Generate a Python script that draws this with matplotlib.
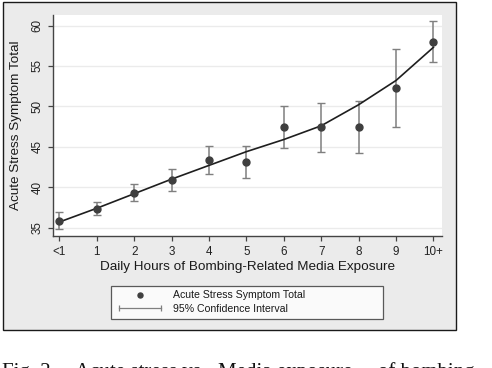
import matplotlib.pyplot as plt
from matplotlib.lines import Line2D
from matplotlib.legend_handler import HandlerLine2D
from matplotlib.patches import Rectangle

plt.rcParams['font.family'] = ['Liberation Sans', 'DejaVu Sans']

# daily hours of media exposure, group means and 95% CI
hour_labels = ['<1', '1', '2', '3', '4', '5', '6', '7', '8', '9', '10+']
stress_mean = [35.8, 37.3, 39.3, 40.9, 43.4, 43.1, 47.5, 47.4, 47.4, 52.25, 57.9]
ci_upper = [36.9, 38.2, 40.4, 42.3, 45.1, 45.1, 50.1, 50.4, 50.7, 57.1, 60.5]
ci_lower = [34.8, 36.6, 38.3, 39.5, 41.6, 41.1, 44.8, 44.4, 44.2, 47.4, 55.5]
# fitted curve
fit_values = [35.7, 37.4, 39.2, 41.0, 42.7, 44.4, 45.9, 47.6, 50.2, 53.2, 57.3]
y_ticks = [35, 40, 45, 50, 55, 60]

PT_COL = '#3f3f3f'
ERR_COL = '#7f7f7f'
AX_COL = '#444444'

fig = plt.figure(figsize=(4.92, 3.68), dpi=100)
fig.patch.set_facecolor('white')

# gray graph region with black frame
frame = Rectangle((3 / 492, 1 - 330 / 368), 453 / 492, 328 / 368,
                  transform=fig.transFigure, facecolor='#ebebeb',
                  edgecolor='#1a1a1a', linewidth=1.0, zorder=-5)
fig.add_artist(frame)

ax = fig.add_axes([53 / 492, 1 - 236 / 368, 389 / 492, 221 / 368])
ax.set_zorder(1)
ax.set_facecolor('white')

x = list(range(len(hour_labels)))
err_low = [m - lo for m, lo in zip(stress_mean, ci_lower)]
err_high = [hi - m for m, hi in zip(stress_mean, ci_upper)]

ax.errorbar(x, stress_mean, yerr=[err_low, err_high], fmt='none',
            ecolor=ERR_COL, elinewidth=1.1, capsize=2.6, capthick=1.0, zorder=2)
ax.plot(x, fit_values, color='#1e1e1e', lw=1.2, zorder=3)
ax.plot(x, stress_mean, ls='none', marker='o', ms=5, color=PT_COL, zorder=4)

ax.set_xlim(-0.17, 10.23)
ax.set_ylim(33.97, 61.3)
ax.set_xticks(x)
ax.set_xticklabels(hour_labels)
ax.set_yticks(y_ticks)
ax.set_yticklabels([str(v) for v in y_ticks], rotation=90, va='center')

ax.grid(axis='y', color='#ebebeb', lw=1.0)
ax.set_axisbelow(True)
for side in ['top', 'right']:
    ax.spines[side].set_visible(False)
for side in ['left', 'bottom']:
    ax.spines[side].set_color(AX_COL)
    ax.spines[side].set_linewidth(1.0)
ax.tick_params(axis='both', length=3.6, width=0.9, color=AX_COL,
               labelsize=8.4, labelcolor='#222222')
ax.tick_params(axis='x', pad=3.5)
ax.tick_params(axis='y', pad=3)

ax.set_xlabel('Daily Hours of Bombing-Related Media Exposure', fontsize=9.7, color='#1a1a1a')
ax.set_ylabel('Acute Stress Symptom Total', fontsize=9.7, color='#1a1a1a')
ax.xaxis.set_label_coords(0.5, -0.139)
ax.xaxis.label.set_va('center')
ax.yaxis.set_label_coords(-0.095, 0.5)
ax.yaxis.label.set_va('center')

# legend with a horizontal CI symbol
dot_handle = Line2D([], [], ls='none', marker='o', ms=3.6, color=PT_COL)
ci_handle = Line2D([], [], color=ERR_COL, lw=0.9, marker='|', ms=4, mew=0.9)
leg = fig.legend([dot_handle, ci_handle],
                 ['Acute Stress Symptom Total', '95% Confidence Interval'],
                 handler_map={dot_handle: HandlerLine2D(numpoints=1),
                              ci_handle: HandlerLine2D(numpoints=2)},
                 loc='upper left', mode='expand', borderaxespad=0,
                 bbox_to_anchor=(111 / 492, 1 - 322.3 / 368, 272 / 492, 36.6 / 368),
                 fontsize=7.6, handlelength=4.6, handletextpad=0.8,
                 labelspacing=0.35, borderpad=0.45, fancybox=False)
leg.get_frame().set_edgecolor('#333333')
leg.get_frame().set_linewidth(0.9)
leg.get_frame().set_facecolor('white')
for t in leg.get_texts():
    t.set_color('#1a1a1a')

# caption of the page, cut off by the bottom edge
cap_y = 1 - 377 / 368
for xpos, txt in [(2, 'Fig. 2.'), (75, 'Acute stress vs.'),
                  (218, 'Media exposure'), (378, 'of bombing')]:
    fig.text(xpos / 492, cap_y, txt, family='Liberation Serif', fontsize=15,
             va='baseline', ha='left', color='#111111')

fig.savefig('out.png', dpi=100)
